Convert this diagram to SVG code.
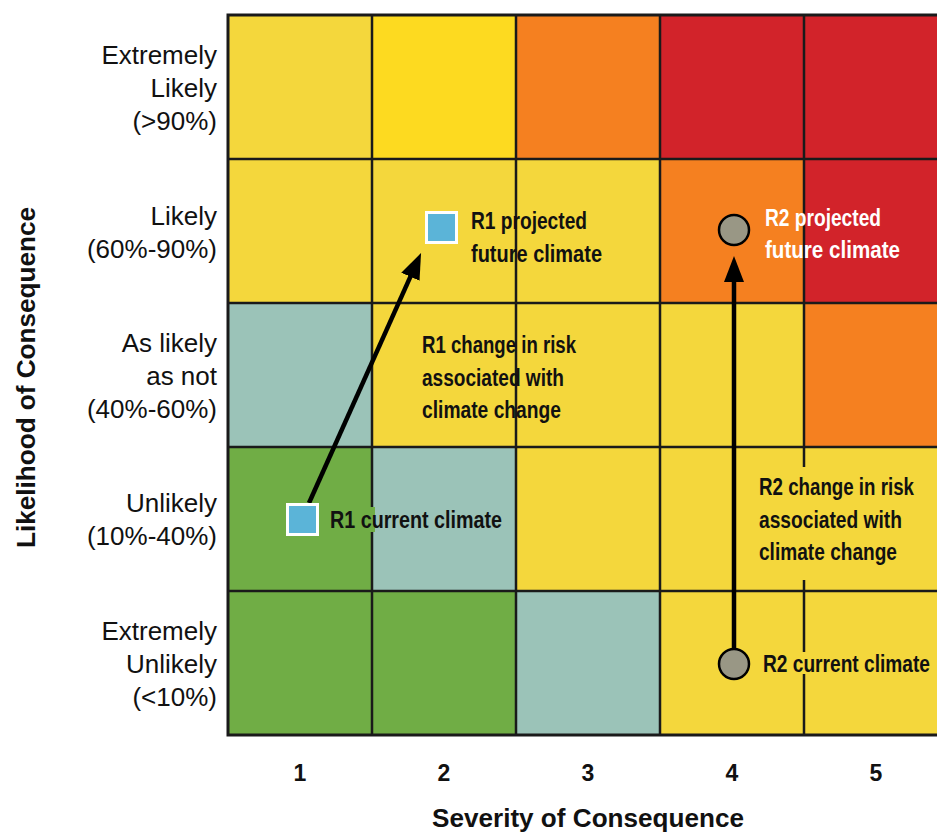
<svg xmlns="http://www.w3.org/2000/svg" width="937" height="834" viewBox="0 0 937 834">
<style>
.y{fill:#F4D73C}.by{fill:#FDDA20}.o{fill:#F58020}.r{fill:#D2232A}.t{fill:#9BC3B8}.g{fill:#70AD45}
.gl{stroke:#1A1A1A;stroke-width:2.5;fill:none}
.lab{font-family:"Liberation Sans",Arial,sans-serif;font-size:26px;fill:#111;text-anchor:end}
.b{font-family:"Liberation Sans",Arial,sans-serif;font-weight:bold;font-size:23px;fill:#111}
.w{fill:#fff}
.num{font-family:"Liberation Sans",Arial,sans-serif;font-weight:bold;font-size:23px;fill:#111;text-anchor:middle}
.ax{font-family:"Liberation Sans",Arial,sans-serif;font-weight:bold;font-size:26px;fill:#111}
.arr{stroke:#000;stroke-width:4.5;fill:none}
.sq{fill:#5BB4D8;stroke:#fff;stroke-width:3}
.ci{fill:#999785;stroke:#000;stroke-width:2.5}
</style>
<defs>
<marker id="ah" viewBox="0 0 26 20" refX="11" refY="10" markerWidth="26" markerHeight="20" markerUnits="userSpaceOnUse" orient="auto">
<path d="M0,0 L26,10 L0,20 Z" fill="#000"/>
</marker>
</defs>
<rect width="937" height="834" fill="#fff"/>
<g id="grid">
<rect class="y" x="228" y="15" width="144" height="144"/>
<rect class="by" x="372" y="15" width="144" height="144"/>
<rect class="o" x="516" y="15" width="144" height="144"/>
<rect class="r" x="660" y="15" width="144" height="144"/>
<rect class="r" x="804" y="15" width="133" height="144"/>
<rect class="y" x="228" y="159" width="144" height="144"/>
<rect class="y" x="372" y="159" width="144" height="144"/>
<rect class="y" x="516" y="159" width="144" height="144"/>
<rect class="o" x="660" y="159" width="144" height="144"/>
<rect class="r" x="804" y="159" width="133" height="144"/>
<rect class="t" x="228" y="303" width="144" height="144"/>
<rect class="y" x="372" y="303" width="144" height="144"/>
<rect class="y" x="516" y="303" width="144" height="144"/>
<rect class="y" x="660" y="303" width="144" height="144"/>
<rect class="o" x="804" y="303" width="133" height="144"/>
<rect class="g" x="228" y="447" width="144" height="144"/>
<rect class="t" x="372" y="447" width="144" height="144"/>
<rect class="y" x="516" y="447" width="144" height="144"/>
<rect class="y" x="660" y="447" width="144" height="144"/>
<rect class="y" x="804" y="447" width="133" height="144"/>
<rect class="g" x="228" y="591" width="144" height="144"/>
<rect class="g" x="372" y="591" width="144" height="144"/>
<rect class="t" x="516" y="591" width="144" height="144"/>
<rect class="y" x="660" y="591" width="144" height="144"/>
<rect class="y" x="804" y="591" width="133" height="144"/>
<path class="gl" d="M372,15V735M516,15V735M660,15V735M804,15V735M228,159H937M228,303H937M228,447H937M228,591H937"/>
<path class="gl" style="stroke-width:3" d="M937,15H228V735H937"/>
<rect class="y" x="800" y="467" width="10" height="113"/>
<rect class="y" x="800" y="652" width="10" height="22"/>
<rect class="g" x="369" y="507" width="6" height="25"/>
</g>
<g id="y-labels">
<text class="lab" x="217" y="64">Extremely</text>
<text class="lab" x="217" y="97">Likely</text>
<text class="lab" x="217" y="130">(&gt;90%)</text>
<text class="lab" x="217" y="225">Likely</text>
<text class="lab" x="217" y="258">(60%-90%)</text>
<text class="lab" x="217" y="352">As likely</text>
<text class="lab" x="217" y="385">as not</text>
<text class="lab" x="217" y="418">(40%-60%)</text>
<text class="lab" x="217" y="512">Unlikely</text>
<text class="lab" x="217" y="545">(10%-40%)</text>
<text class="lab" x="217" y="640">Extremely</text>
<text class="lab" x="217" y="673">Unlikely</text>
<text class="lab" x="217" y="706">(&lt;10%)</text>
</g>
<g id="x-labels">
<text class="num" x="300" y="781">1</text>
<text class="num" x="444" y="781">2</text>
<text class="num" x="588" y="781">3</text>
<text class="num" x="732" y="781">4</text>
<text class="num" x="876" y="781">5</text>
</g>
<g id="axis-titles">
<text class="ax" x="432" y="827" textLength="312" lengthAdjust="spacingAndGlyphs">Severity of Consequence</text>
<text class="ax" transform="translate(35,548) rotate(-90)" x="0" y="0" textLength="341" lengthAdjust="spacingAndGlyphs">Likelihood of Consequence</text>
</g>
<g id="connectors">
<line class="arr" x1="309" y1="503" x2="414.9" y2="266.7" marker-end="url(#ah)"/>
<line class="arr" x1="734" y1="650" x2="734" y2="271" marker-end="url(#ah)"/>
</g>
<g id="r1-current">
<rect class="sq" x="287.5" y="504.5" width="30" height="30"/>
<text class="b" x="330" y="528" textLength="172" lengthAdjust="spacingAndGlyphs">R1 current  climate</text>
</g>
<g id="r1-projected">
<rect class="sq" x="426.5" y="212.5" width="30" height="30"/>
<text class="b" x="471" y="229" textLength="116" lengthAdjust="spacingAndGlyphs">R1 projected</text>
<text class="b" x="471" y="262" textLength="131" lengthAdjust="spacingAndGlyphs">future climate</text>
</g>
<g id="r1-change">
<text class="b" x="422" y="353" textLength="154" lengthAdjust="spacingAndGlyphs">R1 change in risk</text>
<text class="b" x="422" y="386" textLength="142" lengthAdjust="spacingAndGlyphs">associated with</text>
<text class="b" x="422" y="418" textLength="139" lengthAdjust="spacingAndGlyphs">climate change</text>
</g>
<g id="r2-current">
<circle class="ci" cx="734" cy="664" r="15"/>
<text class="b" x="763" y="672" textLength="167" lengthAdjust="spacingAndGlyphs">R2 current climate</text>
</g>
<g id="r2-projected">
<circle class="ci" cx="734" cy="230" r="15"/>
<text class="b w" x="765" y="226" textLength="116" lengthAdjust="spacingAndGlyphs">R2 projected</text>
<text class="b w" x="765" y="258" textLength="135" lengthAdjust="spacingAndGlyphs">future  climate</text>
</g>
<g id="r2-change">
<text class="b" x="759" y="495" textLength="155" lengthAdjust="spacingAndGlyphs">R2 change in risk</text>
<text class="b" x="759" y="528" textLength="143" lengthAdjust="spacingAndGlyphs">associated with</text>
<text class="b" x="759" y="560" textLength="138" lengthAdjust="spacingAndGlyphs">climate change</text>
</g>
</svg>
